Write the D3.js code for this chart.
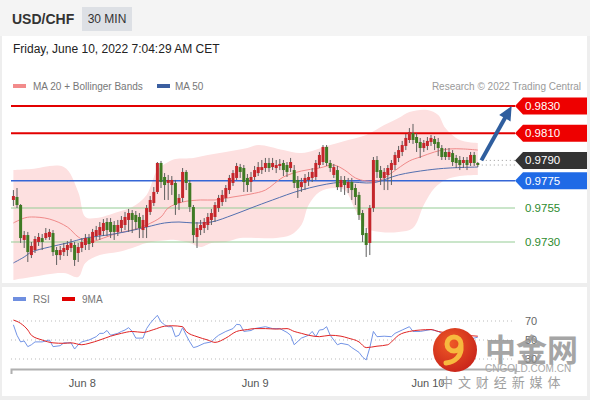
<!DOCTYPE html>
<html>
<head>
<meta charset="utf-8">
<script src="https://cdn.jsdelivr.net/npm/d3@7"></script>
<style>
  body { margin: 0; background: #eeeeee; font-family: "Liberation Sans", Arial, sans-serif; }
  svg { display: block; }
</style>
</head>
<body>
<svg id="chart" width="590" height="400"></svg>
<script>
// USD/CHF 30 min bars, first bar Jun 7 14:30
const opens = [
  .97609, .97631, .97572, .97315, .97351, .97204, .97241, .97300, .97329, .97329,
  .97337, .97366, .97241, .97204, .97226, .97241, .97256, .97278, .97219, .97256,
  .97278, .97329, .97293, .97344, .97351, .97381, .97447, .97447, .97425, .97374,
  .97403, .97425, .97462, .97513, .97499, .97484, .97388, .97410, .97521, .97587,
  .97668, .97881, .97778, .97734, .97719, .97734, .97587, .97624, .97815, .97734,
  .97557, .97337, .97388, .97403, .97425, .97462, .97484, .97550, .97594, .97624,
  .97682, .97734, .97771, .97851, .97844, .97771, .97741, .97778, .97807, .97829,
  .97844, .97881, .97851, .97844, .97859, .97881, .97866, .97844, .97829, .97756,
  .97704, .97734, .97756, .97771, .97778, .97866, .97888, .97999, .97881, .97793,
  .97829, .97704, .97756, .97697, .97741, .97697, .97646, .97513, .97366, .97293,
  .97550, .97903, .97829, .97771, .97793, .97829, .97866, .97918, .97962, .98006,
  .98050, .98101, .98072, .98035, .97991, .98006, .98035, .98057, .98035, .97991,
  .97962, .97925, .97954, .97918, .97903, .97881, .97903, .97881, .97940, .97881
];
const highs = [
  .97682, .97697, .97579, .97381, .97374, .97300, .97344, .97366, .97359, .97403,
  .97396, .97388, .97263, .97271, .97293, .97307, .97322, .97300, .97293, .97329,
  .97359, .97359, .97396, .97418, .97447, .97469, .97476, .97476, .97454, .97462,
  .97491, .97521, .97543, .97535, .97528, .97513, .97499, .97572, .97638, .97704,
  .97888, .97896, .97807, .97793, .97785, .97756, .97653, .97844, .97829, .97756,
  .97572, .97447, .97462, .97476, .97513, .97543, .97594, .97646, .97682, .97719,
  .97793, .97829, .97881, .97874, .97866, .97800, .97815, .97859, .97888, .97903,
  .97918, .97918, .97918, .97903, .97910, .97903, .97888, .97918, .97866, .97785,
  .97771, .97800, .97815, .97844, .97903, .97962, .98013, .98013, .97903, .97874,
  .97859, .97785, .97785, .97771, .97771, .97726, .97668, .97535, .97403, .97572,
  .97925, .97932, .97859, .97844, .97866, .97903, .97962, .98006, .98043, .98094,
  .98138, .98168, .98101, .98065, .98050, .98072, .98087, .98079, .98065, .98013,
  .97991, .97991, .97976, .97940, .97932, .97925, .97925, .97962, .97962, .97888
];
const lows = [
  .97565, .97550, .97293, .97256, .97153, .97182, .97219, .97271, .97241, .97315,
  .97315, .97197, .97131, .97168, .97197, .97197, .97226, .97124, .97153, .97226,
  .97241, .97241, .97263, .97315, .97315, .97344, .97344, .97329, .97315, .97344,
  .97374, .97388, .97374, .97366, .97388, .97329, .97329, .97329, .97499, .97565,
  .97653, .97697, .97609, .97609, .97646, .97499, .97535, .97594, .97682, .97521,
  .97293, .97256, .97351, .97366, .97388, .97425, .97447, .97521, .97565, .97594,
  .97653, .97712, .97756, .97771, .97668, .97668, .97668, .97756, .97785, .97800,
  .97815, .97815, .97829, .97807, .97829, .97785, .97778, .97815, .97697, .97624,
  .97668, .97682, .97712, .97741, .97756, .97844, .97866, .97859, .97815, .97771,
  .97682, .97668, .97646, .97660, .97609, .97572, .97462, .97300, .97190, .97204,
  .97521, .97771, .97719, .97682, .97682, .97719, .97829, .97888, .97932, .97976,
  .98028, .98021, .97962, .97918, .97962, .97976, .98006, .97976, .97932, .97903,
  .97903, .97903, .97859, .97844, .97829, .97844, .97829, .97859, .97859, .97851
];
const closes = [
  .97638, .97572, .97329, .97351, .97226, .97271, .97322, .97337, .97300, .97366,
  .97374, .97226, .97204, .97241, .97256, .97278, .97293, .97168, .97263, .97300,
  .97329, .97285, .97374, .97388, .97410, .97440, .97388, .97374, .97374, .97425,
  .97462, .97484, .97513, .97462, .97447, .97403, .97462, .97550, .97609, .97668,
  .97881, .97741, .97719, .97756, .97756, .97572, .97624, .97815, .97734, .97557,
  .97351, .97403, .97425, .97447, .97484, .97513, .97572, .97624, .97646, .97697,
  .97771, .97807, .97859, .97815, .97741, .97719, .97778, .97829, .97851, .97851,
  .97881, .97844, .97881, .97866, .97874, .97829, .97815, .97888, .97734, .97697,
  .97741, .97771, .97778, .97815, .97881, .97940, .97999, .97881, .97844, .97851,
  .97704, .97756, .97719, .97741, .97682, .97631, .97499, .97351, .97278, .97550,
  .97903, .97815, .97771, .97815, .97844, .97881, .97940, .97976, .98013, .98065,
  .98109, .98050, .98028, .97991, .98028, .98043, .98065, .98021, .97991, .97925,
  .97925, .97962, .97888, .97881, .97866, .97903, .97866, .97940, .97881, .97866
];

// indicators: [bar index, value]
const bbUpper = [[0,.97829],[5,.97837],[14,.97851],[18,.97668],[20,.97484],[23,.97476],[29,.97521],[33,.97557],[37,.97646],[40,.97829],[43,.97888],[45,.97910],[50,.97918],[54,.97940],[59,.97962],[65,.97991],[68,.98013],[75,.97976],[80,.97954],[88,.98013],[93,.98050],[98,.98087],[103,.98160],[107,.98212],[110,.98256],[115,.98271],[118,.98234],[120,.98138],[124,.98050],[129,.98028]];
const bbLower = [[0,.97021],[5,.97043],[14,.97072],[18,.97043],[20,.97146],[24,.97204],[29,.97226],[33,.97256],[37,.97293],[43,.97315],[45,.97315],[49,.97293],[52,.97263],[55,.97293],[59,.97300],[63,.97329],[68,.97329],[73,.97329],[77,.97351],[80,.97425],[82,.97572],[85,.97668],[89,.97697],[92,.97682],[95,.97535],[98,.97403],[102,.97374],[107,.97374],[111,.97403],[114,.97572],[117,.97697],[120,.97756],[124,.97785],[129,.97793]];
const ma20 = [[0,.97440],[3,.97476],[5,.97484],[10,.97469],[15,.97410],[18,.97337],[21,.97300],[25,.97329],[29,.97366],[33,.97388],[37,.97425],[41,.97484],[43,.97550],[47,.97594],[52,.97609],[56,.97609],[61,.97631],[66,.97653],[70,.97682],[75,.97778],[80,.97822],[85,.97844],[89,.97866],[92,.97829],[95,.97771],[98,.97749],[102,.97756],[105,.97807],[110,.97896],[113,.97925],[117,.97962],[121,.97984],[125,.97984],[129,.97976]];
const ma50 = [[0,.97146],[3,.97190],[5,.97226],[10,.97263],[15,.97293],[20,.97329],[26,.97351],[31,.97374],[37,.97410],[42,.97440],[46,.97447],[50,.97440],[55,.97447],[61,.97499],[66,.97550],[72,.97609],[80,.97682],[89,.97734],[94,.97741],[98,.97734],[101,.97741],[107,.97793],[115,.97829],[121,.97844],[129,.97851]];
const rsi = [[0,66],[1,55],[2,48],[3,49],[4,43],[5,45],[6,48],[8,48],[10,50],[11,43],[13,44],[14,47],[16,47],[17,40.5],[18,45],[19,48],[21,50],[23,53.5],[24,57],[25,57],[26,60],[27,55],[29,57],[30,59],[31,60.5],[32,63],[33,59],[34,52],[36,52],[37,62],[38,67.5],[39,72],[40,76],[41,69],[42,66],[43,64],[44,64],[45,53.5],[46,55],[47,63],[48,55],[49,48],[50,42],[51,43],[53,46.5],[55,48],[56,52],[57,55],[59,59],[61,62],[62,66.5],[63,66],[64,59],[66,60],[67,62],[70,64],[72,62],[74,62],[76,58],[77,55],[78,45],[80,52],[82,55],[83,59],[84,53.5],[85,60.5],[86,61],[87,64],[88,55],[90,45],[91,46.5],[93,45],[94,42],[96,37],[97,32],[98,29],[99,42],[100,59],[101,53.5],[103,54],[105,53.5],[106,57],[108,60.5],[110,64],[111,59],[113,59],[116,61],[118,59],[119,57],[121,55],[123,52],[125,50],[127,51],[129,53]];
const rsiMa9 = [[0,71],[2,67.5],[4,60.5],[5,55],[8,50],[11,47],[14,46.5],[16,47],[19,45],[21,46.5],[24,50],[27,54],[30,57],[33,59],[36,58],[39,61],[42,64.5],[44,65],[47,64],[48,59],[51,53.5],[54,50],[56,47.5],[59,52],[62,59],[65,61],[67,62],[70,62],[73,61.5],[76,62],[78,59],[80,57],[82,55],[85,53.5],[88,55],[91,54],[93,52],[96,48],[98,42],[101,43.5],[104,45],[105,48],[107,55],[110,59],[113,60.5],[116,61],[118,59],[123,56],[129,54]];

const resistances = [0.9830, 0.9810];
const pivot = 0.9790;
const supports = [0.9775, 0.9755, 0.9730];
const rsiLevels = [70, 50, 30];
const rsiTickLabels = [70, 50, 30];
const dayTicks = [new Date(2022, 5, 8), new Date(2022, 5, 9), new Date(2022, 5, 10)];
const arrowFrom = [130, 0.9790];
const arrowTo = [138.4, 0.9830];

const barStart = new Date(2022, 5, 7, 14, 30);
const barTime = i => new Date(+barStart + i * 30 * 60 * 1000);

const svg = d3.select('#chart');

// panels
svg.append('rect').attr('width', 590).attr('height', 400).attr('fill', '#eeeeee');
svg.append('rect').attr('width', 590).attr('height', 36).attr('fill', '#f4f4f4');
svg.append('rect').attr('x', 2).attr('y', 36).attr('width', 585).attr('height', 247).attr('fill', '#fff');
svg.append('rect').attr('x', 2).attr('y', 287).attr('width', 585).attr('height', 109).attr('fill', '#fff');

// header
svg.append('text').attr('x', 12).attr('y', 24).attr('font-size', 14).attr('font-weight', 'bold')
  .attr('fill', '#333').text('USD/CHF');
svg.append('rect').attr('x', 82).attr('y', 7).attr('width', 50).attr('height', 24).attr('fill', '#dde0e5');
svg.append('text').attr('x', 107).attr('y', 23).attr('font-size', 12).attr('text-anchor', 'middle')
  .attr('fill', '#333').text('30 MIN');
svg.append('text').attr('x', 13).attr('y', 53).attr('font-size', 12).attr('fill', '#222')
  .text('Friday, June 10, 2022 7:04:29 AM CET');

// legend
svg.append('rect').attr('x', 13).attr('y', 84).attr('width', 13).attr('height', 4).attr('fill', '#f28b8b');
svg.append('text').attr('x', 33).attr('y', 89.5).attr('font-size', 10).attr('fill', '#777').text('MA 20 + Bollinger Bands');
svg.append('rect').attr('x', 157).attr('y', 84).attr('width', 13).attr('height', 4).attr('fill', '#3b5fa0');
svg.append('text').attr('x', 175).attr('y', 89.5).attr('font-size', 10).attr('fill', '#777').text('MA 50');
svg.append('text').attr('x', 581).attr('y', 89.5).attr('font-size', 10).attr('fill', '#9a9a9a')
  .attr('text-anchor', 'end').text('Research © 2022 Trading Central');

// scales
const x = d3.scaleTime()
  .domain([new Date(2022, 5, 7, 14, 10), new Date(2022, 5, 10, 12, 10)])
  .range([11, 515]);
const y = d3.scaleLinear().domain([0.9730, 0.9830]).range([242, 106]);
const yRsi = d3.scaleLinear().domain([30, 70]).range([359, 321]);

const xi = i => x(barTime(i));

// bollinger band
const bandLine = d3.line().x(d => xi(d[0])).y(d => y(d[1])).curve(d3.curveCatmullRom.alpha(0.5));
const bandPath = bandLine(bbUpper) + 'L' + bandLine(bbLower.slice().reverse()).slice(1) + 'Z';
svg.append('path').attr('d', bandPath).attr('fill', '#fde0e0');

// level lines
const levelColor = { r: '#e30000', s: '#3566d6', g: '#95cc95' };
resistances.forEach(p => {
  svg.append('line').attr('x1', 11).attr('x2', 515).attr('y1', y(p)).attr('y2', y(p))
    .attr('stroke', levelColor.r).attr('stroke-width', 2);
});
supports.forEach((p, k) => {
  svg.append('line').attr('x1', 11).attr('x2', 515).attr('y1', y(p)).attr('y2', y(p))
    .attr('stroke', k === 0 ? levelColor.s : levelColor.g).attr('stroke-width', k === 0 ? 1.5 : 1);
});

// moving averages
svg.append('path').attr('d', bandLine(ma20)).attr('fill', 'none').attr('stroke', '#f08a8a').attr('stroke-width', 1);
svg.append('path').attr('d', bandLine(ma50)).attr('fill', 'none').attr('stroke', '#5470b0').attr('stroke-width', 1);

// candles
const candles = closes.map((c, i) => ({ t: barTime(i), o: opens[i], h: highs[i], l: lows[i], c }));
const upCol = '#c4262b', downCol = '#3f7a24';
svg.append('g').selectAll('line').data(candles).join('line')
  .attr('x1', d => x(d.t)).attr('x2', d => x(d.t))
  .attr('y1', d => y(d.h)).attr('y2', d => y(d.l))
  .attr('stroke', '#5e5e5e').attr('stroke-width', 1);
svg.append('g').selectAll('rect').data(candles).join('rect')
  .attr('x', d => x(d.t) - 1.5).attr('width', 3)
  .attr('y', d => y(Math.max(d.o, d.c)))
  .attr('height', d => Math.max(1, Math.abs(y(d.o) - y(d.c))))
  .attr('fill', d => d.c >= d.o ? upCol : downCol);

// dotted pivot / last price
const lastClose = closes[closes.length - 1];
[pivot, lastClose].forEach(p => {
  svg.append('line').attr('x1', xi(closes.length - 1) + 4).attr('x2', 515)
    .attr('y1', y(p)).attr('y2', y(p))
    .attr('stroke', '#999').attr('stroke-width', 1).attr('stroke-dasharray', '1,3');
});

// arrow
const ax1 = xi(arrowFrom[0]), ay1 = y(arrowFrom[1]);
const ax2 = xi(arrowTo[0]), ay2 = y(arrowTo[1]);
const len = Math.hypot(ax2 - ax1, ay2 - ay1);
const ux = (ax2 - ax1) / len, uy = (ay2 - ay1) / len;
const headL = 14, headW = 6.5;
const bx = ax2 - ux * headL, by = ay2 - uy * headL;
svg.append('line').attr('x1', ax1).attr('y1', ay1).attr('x2', bx + ux * 2).attr('y2', by + uy * 2)
  .attr('stroke', '#2f5e9e').attr('stroke-width', 4);
svg.append('path')
  .attr('d', `M${ax2},${ay2}L${bx - uy * headW},${by + ux * headW}L${bx + uy * headW},${by - ux * headW}Z`)
  .attr('fill', '#2f5e9e');

// price labels
function tag(p, fill) {
  const yc = y(p);
  svg.append('path')
    .attr('d', `M515,${yc}L523,${yc - 8.5}H587V${yc + 8.5}H523Z`)
    .attr('fill', fill);
  svg.append('text').attr('x', 525).attr('y', yc + 4).attr('font-size', 11.5).attr('fill', '#fff')
    .text(d3.format('.4f')(p));
}
resistances.forEach(p => tag(p, '#ee0000'));
tag(pivot, '#333333');
tag(supports[0], '#1f6ae6');
supports.slice(1).forEach(p => {
  svg.append('text').attr('x', 525).attr('y', y(p) + 4).attr('font-size', 11.5).attr('fill', '#2e8b2e')
    .text(d3.format('.4f')(p));
});

// RSI panel
svg.append('rect').attr('x', 13).attr('y', 297).attr('width', 13).attr('height', 4).attr('fill', '#6f8fe0');
svg.append('text').attr('x', 33).attr('y', 302.5).attr('font-size', 10).attr('fill', '#777').text('RSI');
svg.append('rect').attr('x', 62).attr('y', 297).attr('width', 13).attr('height', 4).attr('fill', '#e00000');
svg.append('text').attr('x', 82).attr('y', 302.5).attr('font-size', 10).attr('fill', '#777').text('9MA');

rsiLevels.forEach(v => {
  svg.append('line').attr('x1', 11).attr('x2', 515).attr('y1', yRsi(v)).attr('y2', yRsi(v))
    .attr('stroke', '#bbb').attr('stroke-width', 1).attr('stroke-dasharray', '1,3');
});
rsiTickLabels.forEach(v => {
  svg.append('text').attr('x', 525).attr('y', yRsi(v) + 4).attr('font-size', 11).attr('fill', '#666').text(v);
});

const rsiLine = d3.line().x(d => xi(d[0])).y(d => yRsi(d[1]));
svg.append('path').attr('d', rsiLine(rsi)).attr('fill', 'none').attr('stroke', '#7394e6').attr('stroke-width', 1);
svg.append('path').attr('d', rsiLine.curve(d3.curveMonotoneX)(rsiMa9)).attr('fill', 'none')
  .attr('stroke', '#e02424').attr('stroke-width', 1);

// time axis
const xAxis = d3.axisBottom(x).tickValues(dayTicks).tickFormat(d3.timeFormat('%b %-d'))
  .tickSizeInner(0).tickSizeOuter(5).tickPadding(10);
const axG = svg.append('g').attr('transform', 'translate(0,369)').call(xAxis);
axG.select('.domain').attr('stroke', '#b0b0b0').attr('stroke-width', 2);
axG.selectAll('text').attr('font-size', 11).attr('fill', '#555')
  .attr('font-family', '"Liberation Sans", Arial, sans-serif');

// watermark (sits over the bottom right of the chart)
const wm = svg.append('g');
const grad = svg.append('defs').append('radialGradient').attr('id', 'wmg').attr('cx', '40%').attr('cy', '35%').attr('r', '70%');
grad.append('stop').attr('offset', '0%').attr('stop-color', '#ef5a26');
grad.append('stop').attr('offset', '100%').attr('stop-color', '#c8231a');
wm.append('circle').attr('cx', 455).attr('cy', 350).attr('r', 22).attr('fill', 'url(#wmg)');
wm.append('circle').attr('cx', 454).attr('cy', 344).attr('r', 7).attr('fill', 'none')
  .attr('stroke', '#f7b93e').attr('stroke-width', 5);
wm.append('path').attr('d', 'M461,346 C462,356 455,362 446,363')
  .attr('fill', 'none').attr('stroke', '#f7b93e').attr('stroke-width', 5).attr('stroke-linecap', 'round');
wm.append('text').attr('x', 485).attr('y', 361).attr('font-size', 31).attr('font-weight', 'bold')
  .attr('font-family', '"Noto Sans CJK SC", sans-serif').attr('fill', '#8f8f8f').attr('opacity', 0.8)
  .text('中金网');
wm.append('text').attr('x', 485).attr('y', 372).attr('font-size', 10).attr('fill', '#a8a8a8')
  .text('CNGOLD.COM.CN');
wm.append('text').attr('x', 440).attr('y', 387).attr('font-size', 13).attr('fill', '#a0a0a0')
  .attr('font-family', '"Noto Sans CJK SC", sans-serif').attr('letter-spacing', 1)
  .text('中 文 财 经 新 媒 体');
</script>
</body>
</html>
